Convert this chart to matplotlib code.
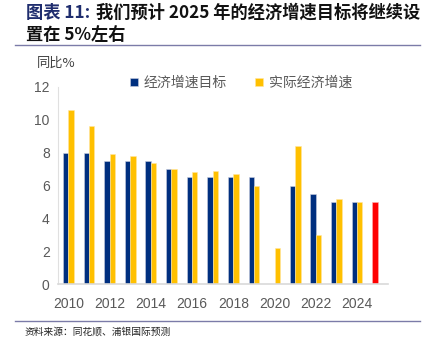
import numpy as np
import matplotlib.pyplot as plt

plt.rcParams['font.family'] = ['Liberation Sans', 'Noto Sans CJK SC', 'DejaVu Sans']

years = np.arange(2010, 2026)
target = [8, 8, 7.5, 7.5, 7.5, 7, 6.5, 6.5, 6.5, 6.5, np.nan, 6, 5.5, 5, 5, np.nan]
actual = [10.6, 9.6, 7.9, 7.8, 7.4, 7.0, 6.8, 6.9, 6.7, 6.0, 2.2, 8.4, 3.0, 5.2, 5.0, np.nan]
forecast_year = [2025]
forecast = [5]

blue = '#002F7F'
yellow = '#FFC000'
red = '#FF0000'
gray = '#595959'

fig = plt.figure(figsize=(4.31, 3.52), dpi=100)
ax = fig.add_axes([58 / 431, 1 - 284 / 352, 330 / 431, 197 / 352])

w = 0.26
ax.bar(years - w / 2, target, w, color=blue, edgecolor='#c9cfe0', linewidth=0.4, label='经济增速目标')
ax.bar(years + w / 2, actual, w, color=yellow, edgecolor='#ffe6a0', linewidth=0.4, label='实际经济增速')
ax.bar(np.array(forecast_year) - w / 2, forecast, w, color=red, edgecolor='#ffb0b0', linewidth=0.4)

ax.set_xlim(2009.5, 2025.5)
ax.set_ylim(0, 12)
ax.set_xticks(np.arange(2010, 2025, 2))
ax.set_yticks(np.arange(0, 13, 2))
ax.tick_params(length=0, labelsize=10, colors=gray, pad=6)
ax.tick_params(axis='x', pad=9)
for s in ['top', 'right']:
    ax.spines[s].set_visible(False)
ax.spines['left'].set_color('#e0e0e0')
ax.spines['bottom'].set_color('#d9d9d9')
ax.spines['bottom'].set_linewidth(1.2)

leg = ax.legend(loc='upper left', bbox_to_anchor=(0.18, 1.12), ncol=2, frameon=False,
                fontsize=10, handlelength=0.6, handleheight=0.6, handletextpad=0.4,
                columnspacing=2.0, prop={'family': ['Noto Sans CJK SC']})
for t in leg.get_texts():
    t.set_color(gray)

fig.text(37 / 431, 1 - 63 / 352, '同比%', fontsize=9.5, color='#404040', va='center',
         family=['Noto Sans CJK SC'])

# title
fig.text(26 / 431, 1 - 13 / 352, '图表 11:', fontsize=12.4, fontweight='bold', color='#1F2D6E',
         va='center', family=['Noto Sans CJK SC'])
fig.text(96 / 431, 1 - 13 / 352, '我们预计 2025 年的经济增速目标将继续设', fontsize=12.4,
         fontweight='bold', color='#111111', va='center', family=['Noto Sans CJK SC'])
fig.text(26 / 431, 1 - 35 / 352, '置在 5%左右', fontsize=12.4, fontweight='bold', color='#111111',
         va='center', family=['Noto Sans CJK SC'])
fig.add_artist(plt.Line2D([15 / 431, 420 / 431], [1 - 45 / 352] * 2, color='#7B7BA8', lw=1))

fig.add_artist(plt.Line2D([15 / 431, 420 / 431], [1 - 321 / 352] * 2, color='#7B7BA8', lw=1))
fig.text(25 / 431, 1 - 332 / 352, '资料来源：同花顺、浦银国际预测', fontsize=7, color='#222222',
         va='center', family=['Noto Sans CJK SC'])

fig.savefig('out.png', dpi=100)
